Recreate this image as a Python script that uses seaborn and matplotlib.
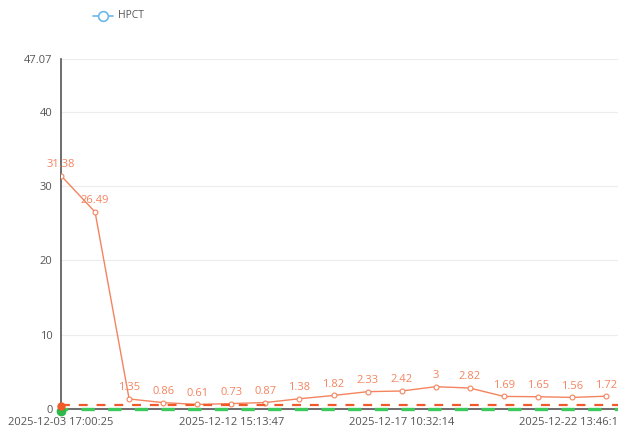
import matplotlib
matplotlib.use("Agg")
import matplotlib.pyplot as plt
import seaborn as sns
import pandas as pd

# 数据
time_labels = ["2025-12-03 17:00:25", "", "", "", "", "2025-12-12 15:13:47", "", "", "", "",
               "2025-12-17 10:32:14", "", "", "", "", "2025-12-22 13:46:18", ""]
hpct_values = [31.38, 26.49, 1.35, 0.86, 0.61, 0.73, 0.87, 1.38, 1.82, 2.33, 2.42,
               3, 2.82, 1.69, 1.65, 1.56, 1.72]
red_line_value = 0.5
green_line_value = 0
y_ticks = [0, 10, 20, 30, 40, 47.07]
y_tick_labels = ["0", "10", "20", "30", "40", "47.07"]

df = pd.DataFrame({"idx": range(len(hpct_values)), "HPCT": hpct_values})

sns.set_style("white")
plt.rcParams['font.family'] = ['Open Sans', 'DejaVu Sans']

fig = plt.figure(figsize=(6.18, 4.37), dpi=100)
ax = fig.add_axes([61 / 618, 28 / 437, 557 / 618, 350 / 437])

line_color = "#f4845f"

# 网格线
for yt in y_ticks[1:]:
    ax.axhline(yt, color="#ececec", lw=0.8, zorder=0)

sns.lineplot(data=df, x="idx", y="HPCT", ax=ax, color=line_color, lw=1.0,
             marker="o", markersize=3.5, markerfacecolor="white",
             markeredgecolor=line_color, markeredgewidth=0.8, legend=False, zorder=3)

for i, v in enumerate(hpct_values):
    txt = f"{v:g}"
    ax.annotate(txt, (i, v), xytext=(0, 4), textcoords="offset points",
                ha="center", va="bottom", fontsize=8, color=line_color, zorder=4)

# 参考线
ax.axhline(red_line_value, color="#f05a28", lw=1.6, ls=(0, (4, 4)), zorder=4)
ax.axhline(green_line_value, color="#3cc85a", lw=2.4, ls=(2, (4, 4)), zorder=5,
           clip_on=False)
ax.plot([0], [-0.25], "o", color="#2cb84a", markersize=6, clip_on=False, zorder=6)
ax.plot([0], [0.35], "o", color="#f05a28", markersize=5, clip_on=False, zorder=7)

ax.set_xlim(0, 16.35)
ax.set_ylim(0, 47.07)
ax.set_yticks(y_ticks)
ax.set_yticklabels(y_tick_labels)
ax.set_xticks([0, 5, 10, 15])
ax.set_xticklabels([time_labels[i] for i in [0, 5, 10, 15]])
ax.tick_params(axis="y", length=0, labelsize=8, labelcolor="#555555", pad=6)
ax.tick_params(axis="x", length=4, color="#555555", labelsize=8,
               labelcolor="#555555", pad=2)

for s in ["top", "right"]:
    ax.spines[s].set_visible(False)
ax.spines["left"].set_color("#555555")
ax.spines["bottom"].set_color("#555555")
ax.spines["left"].set_linewidth(1.2)
ax.spines["bottom"].set_linewidth(1.2)
ax.spines["bottom"].set_zorder(4.5)
ax.set_xlabel("")
ax.set_ylabel("")

# 图例
legend_color = "#6cb8e8"
fig.lines.append(plt.Line2D([93 / 618, 113 / 618], [1 - 16 / 437, 1 - 16 / 437],
                            color=legend_color, lw=1.2, transform=fig.transFigure))
fig.lines.append(plt.Line2D([103 / 618], [1 - 16 / 437], marker="o", markersize=7,
                            markerfacecolor="white", markeredgecolor=legend_color,
                            markeredgewidth=1.2, transform=fig.transFigure))
fig.text(118 / 618, 1 - 16 / 437, "HPCT", fontsize=7.5, color="#555555", va="center")

fig.savefig("out.png", dpi=100)
